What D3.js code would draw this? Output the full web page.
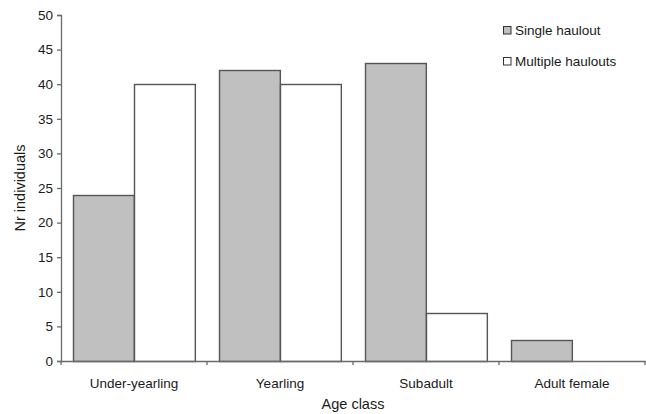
<!DOCTYPE html>
<html lang="en">
<head>
<meta charset="utf-8">
<title>Age class chart</title>
<style type="text/css">
  body { margin: 0; background: #fff; }
  text { font-family: "Liberation Sans", Arial, sans-serif; fill: #1a1a1a; }
</style>
</head>
<body>
<script src="https://cdnjs.cloudflare.com/ajax/libs/d3/7.8.5/d3.min.js"></script>
<script>

    var categories = ["Under-yearling", "Yearling", "Subadult", "Adult female"];
    var seriesNames = ["Single haulout", "Multiple haulouts"];
    var singleHaulout = [24, 42, 43, 3];
    var multipleHaulouts = [40, 40, 7, 0];
    var yTicks = [0, 5, 10, 15, 20, 25, 30, 35, 40, 45, 50];

    var w = 646;
    var h = 414;
    var margin = {left: 61, right: 1, top: 15, bottom: 53};
    var fills = ["#c0c0c0", "#ffffff"];
    var lineColor = "#555555";

    var svg = d3.select("body")
            .append("svg")
            .attr("width", w)
            .attr("height", h);

    var x0 = d3.scaleBand()
            .domain(categories)
            .range([margin.left, w - margin.right]);

    var x1 = d3.scaleBand()
            .domain(seriesNames)
            .range([0, x0.bandwidth()])
            .paddingOuter(0.2);

    var y = d3.scaleLinear()
            .domain([0, 50])
            .range([h - margin.bottom, margin.top]);

    // one row per category, value per series
    var rows = categories.map(function(c, i) {
        return [
            {cat: c, s: seriesNames[0], v: singleHaulout[i]},
            {cat: c, s: seriesNames[1], v: multipleHaulouts[i]}
        ];
    });

    var groups = svg.selectAll("g.grp")
        .data(rows)
        .enter()
        .append("g")
        .attr("class", "grp");

    groups.selectAll("rect")
        .data(function(d) { return d.filter(function(e) { return e.v > 0; }); })
        .enter()
        .append("rect")
        .attr("x", function(d) { return Math.round(x0(d.cat) + x1(d.s)) + 0.5; })
        .attr("y", function(d) { return Math.round(y(d.v)) + 0.5; })
        .attr("width", x1.bandwidth())
        .attr("height", function(d) { return y(0) - Math.round(y(d.v)); })
        .attr("fill", function(d) { return fills[seriesNames.indexOf(d.s)]; })
        .attr("stroke", lineColor)
        .attr("stroke-width", 1.4);

    // y axis
    var yAxis = svg.append("g")
        .attr("transform", "translate(" + margin.left + ",0)")
        .call(d3.axisLeft(y).tickValues(yTicks).tickSize(4).tickPadding(4));
    yAxis.selectAll("text").style("font-size", "13.5px").attr("fill", "#1a1a1a");

    // x axis, ticks at category boundaries
    var xAxis = svg.append("g")
        .attr("transform", "translate(0," + y(0) + ")")
        .call(d3.axisBottom(x0).tickSize(0).tickPadding(17));
    xAxis.selectAll("text").style("font-size", "13.5px").attr("fill", "#1a1a1a");

    var bounds = categories.map(function(c) { return x0(c); }).concat([w - margin.right]);
    xAxis.selectAll("line.bound")
        .data(bounds)
        .enter()
        .append("line")
        .attr("class", "bound")
        .attr("x1", function(d) { return d; })
        .attr("x2", function(d) { return d; })
        .attr("y1", 0)
        .attr("y2", 4);

    svg.selectAll(".domain, .tick line, line.bound")
        .attr("stroke", "#6a6a6a")
        .attr("stroke-width", 1.3);

    // axis titles
    svg.append("text")
        .attr("x", (margin.left + w - margin.right) / 2)
        .attr("y", 409)
        .attr("text-anchor", "middle")
        .style("font-size", "14.5px")
        .text("Age class");

    svg.append("text")
        .attr("transform", "translate(25," + ((margin.top + h - margin.bottom) / 2) + ") rotate(-90)")
        .attr("text-anchor", "middle")
        .style("font-size", "14.5px")
        .text("Nr individuals");

    // legend
    var legend = svg.selectAll("g.leg")
        .data(seriesNames)
        .enter()
        .append("g")
        .attr("class", "leg")
        .attr("transform", function(d, i) { return "translate(503," + (26 + i * 31) + ")"; });

    legend.append("rect")
        .attr("x", 0.5)
        .attr("y", 0.5)
        .attr("width", 7.5)
        .attr("height", 7.5)
        .attr("fill", function(d, i) { return fills[i]; })
        .attr("stroke", "#333")
        .attr("stroke-width", 1);

    legend.append("text")
        .attr("x", 12)
        .attr("y", 8.5)
        .style("font-size", "13.5px")
        .text(function(d) { return d; });

</script>
</body>
</html>
